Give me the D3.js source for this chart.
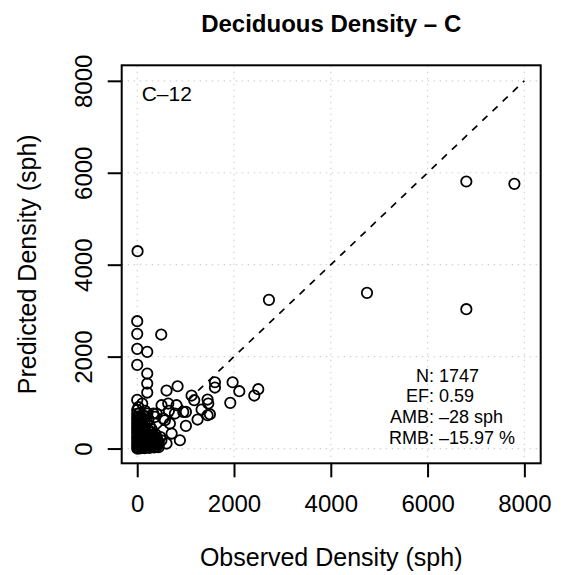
<!DOCTYPE html>
<html>
<head>
<meta charset="utf-8">
<script src="https://cdn.jsdelivr.net/npm/d3@7"></script>
<style>
  body { margin: 0; background: #fff; }
  svg { display: block; font-family: "Liberation Sans", Arial, Helvetica, sans-serif; }
</style>
</head>
<body>
<div id="chart"></div>
<script>
// Chart texts
const title = "Deciduous Density \u2013 C";
const panelLabel = "C\u201312";
const xTitle = "Observed Density (sph)";
const yTitle = "Predicted Density (sph)";

// Tick values (same on both axes)
const ticks = [0, 2000, 4000, 6000, 8000];

// Fit statistics shown in the lower right
const statNames = ["N:", "EF:", "AMB:", "RMB:"];
const statValues = ["1747", "0.59", "\u201328 sph", "\u201315.97 %"];

// Scattered points, [observed, predicted]
const outerPoints = [
  [6801, 5810], [7794, 5759], [7, 4294], [2722, 3235], [4748, 3387], [6801, 3032],
  [0, 2771], [0, 2495], [496, 2480], [0, 2169], [207, 2103], [0, 1820],
  [207, 1632], [207, 1414], [207, 1218], [0, 1059], [606, 1262], [834, 1356],
  [1606, 1443], [1606, 1327], [1971, 1443], [2109, 1248], [2501, 1291], [2419, 1153],
  [1923, 994], [1123, 1153], [1178, 1052], [1454, 1066], [1468, 979], [1330, 849],
  [1502, 747], [1454, 725], [1247, 631], [1006, 493], [882, 181], [1006, 798],
  [951, 798], [813, 943], [655, 820], [503, 943], [675, 544], [606, 109],
  [103, 979], [331, 761], [365, 689], [711, 326], [537, 653], [779, 762],
  [641, 979], [572, 616], [401, 762], [160, 820], [210, 760]
];

// Dense cluster near the origin, [observed, predicted]
const clusterPoints = [
  [0, 0], [25, 15], [50, 5], [100, 20], [150, 10], [200, 30], [250, 15], [300, 40], [350, 25], [400, 45], [440, 30],
  [0, 60], [40, 75], [90, 55], [140, 80], [190, 65], [240, 90], [290, 70], [340, 95], [390, 85], [450, 100],
  [0, 125], [50, 140], [110, 120], [160, 150], [220, 130], [270, 160], [330, 140], [380, 170], [430, 150],
  [0, 200], [30, 215], [80, 190], [130, 220], [180, 205], [240, 230], [300, 210], [350, 245], [410, 225],
  [0, 265], [60, 280], [110, 260], [170, 290], [220, 275], [280, 300], [330, 285], [380, 310],
  [0, 340], [40, 355], [90, 330], [150, 360], [200, 345], [260, 370], [310, 350],
  [0, 410], [50, 425], [100, 400], [150, 430], [220, 415],
  [0, 475], [30, 490], [80, 470], [130, 500],
  [0, 545], [50, 560], [100, 540], [150, 575],
  [0, 615], [40, 630], [90, 610],
  [0, 680], [30, 700], [75, 690], [120, 720],
  [0, 755], [50, 770],
  [0, 840], [25, 900],
  [200, 560], [260, 490], [300, 420], [230, 640], [180, 700], [480, 250], [500, 180]
];

const width = 563;
const height = 575;

// Plot region (R pads the data range by 4%)
const domain = [-320.7, 8337.7];
const x = d3.scaleLinear().domain(domain).range([121.7, 540.7]);
const y = d3.scaleLinear().domain(domain).range([463.3, 65.3]);

const svg = d3.create("svg")
    .attr("width", width)
    .attr("height", height)
    .attr("viewBox", [0, 0, width, height]);

svg.append("rect")
    .attr("width", width)
    .attr("height", height)
    .attr("fill", "#fff");

// Dotted grid
const grid = svg.append("g")
    .attr("stroke", "#d3d3d3")
    .attr("stroke-width", 1.2)
    .attr("stroke-dasharray", "1.5,4.5");

grid.selectAll(".gx")
  .data(ticks)
  .join("line")
    .attr("x1", d => x(d)).attr("x2", d => x(d))
    .attr("y1", y.range()[0]).attr("y2", y.range()[1]);

grid.selectAll(".gy")
  .data(ticks)
  .join("line")
    .attr("y1", d => y(d)).attr("y2", d => y(d))
    .attr("x1", x.range()[0]).attr("x2", x.range()[1]);

// 1:1 line
svg.append("line")
    .attr("x1", x(0)).attr("y1", y(0))
    .attr("x2", x(8000)).attr("y2", y(8000))
    .attr("stroke", "#000")
    .attr("stroke-width", 1.7)
    .attr("stroke-dasharray", "7,7");

// Points
svg.append("g")
    .attr("fill", "none")
    .attr("stroke", "#000")
    .attr("stroke-width", 1.8)
  .selectAll("circle")
  .data(outerPoints.concat(clusterPoints))
  .join("circle")
    .attr("cx", d => x(d[0]))
    .attr("cy", d => y(d[1]))
    .attr("r", 5.2);

// Box
svg.append("rect")
    .attr("x", x.range()[0])
    .attr("y", y.range()[1])
    .attr("width", x.range()[1] - x.range()[0])
    .attr("height", y.range()[0] - y.range()[1])
    .attr("fill", "none")
    .attr("stroke", "#000")
    .attr("stroke-width", 2);

// Axes
const fmt = d3.format("d");
const xAxis = svg.append("g")
    .attr("transform", `translate(0,${y.range()[0]})`)
    .call(d3.axisBottom(x).tickValues(ticks).tickFormat(fmt).tickSize(14));
const yAxis = svg.append("g")
    .attr("transform", `translate(${x.range()[0]},0)`)
    .call(d3.axisLeft(y).tickValues(ticks).tickFormat(fmt).tickSize(14));

[xAxis, yAxis].forEach(g => {
  g.select(".domain").remove();
  g.selectAll(".tick line").attr("stroke", "#000").attr("stroke-width", 2);
  g.selectAll(".tick text").attr("fill", "#000").style("font-size", "24px")
      .style("font-family", "Liberation Sans, Arial, sans-serif");
});

xAxis.selectAll(".tick text").attr("dy", null).attr("y", 49);

// y tick labels are rotated like R's default
yAxis.selectAll(".tick text")
    .attr("x", null).attr("dy", null)
    .attr("text-anchor", "middle")
    .attr("transform", "translate(-30,0) rotate(-90)");

// Titles
svg.append("text")
    .attr("x", (x.range()[0] + x.range()[1]) / 2)
    .attr("y", 31.7)
    .attr("text-anchor", "middle")
    .attr("font-weight", "bold")
    .attr("font-size", 24)
    .text(title);

svg.append("text")
    .attr("x", (x.range()[0] + x.range()[1]) / 2)
    .attr("y", 566)
    .attr("text-anchor", "middle")
    .attr("font-size", 25)
    .text(xTitle);

svg.append("text")
    .attr("transform", `translate(36,${(y.range()[0] + y.range()[1]) / 2}) rotate(-90)`)
    .attr("text-anchor", "middle")
    .attr("font-size", 25)
    .text(yTitle);

svg.append("text")
    .attr("x", 141.7)
    .attr("y", 100.7)
    .attr("font-size", 21)
    .text(panelLabel);

// Statistics, aligned on the colon
const stats = svg.append("g").attr("font-size", 18);
stats.selectAll(".name")
  .data(statNames)
  .join("text")
    .attr("x", 434)
    .attr("y", (d, i) => 381.5 + i * 20.8)
    .attr("text-anchor", "end")
    .text(d => d);
stats.selectAll(".value")
  .data(statValues)
  .join("text")
    .attr("x", 439)
    .attr("y", (d, i) => 381.5 + i * 20.8)
    .text(d => d);

d3.select("#chart").node().appendChild(svg.node());
</script>
</body>
</html>
